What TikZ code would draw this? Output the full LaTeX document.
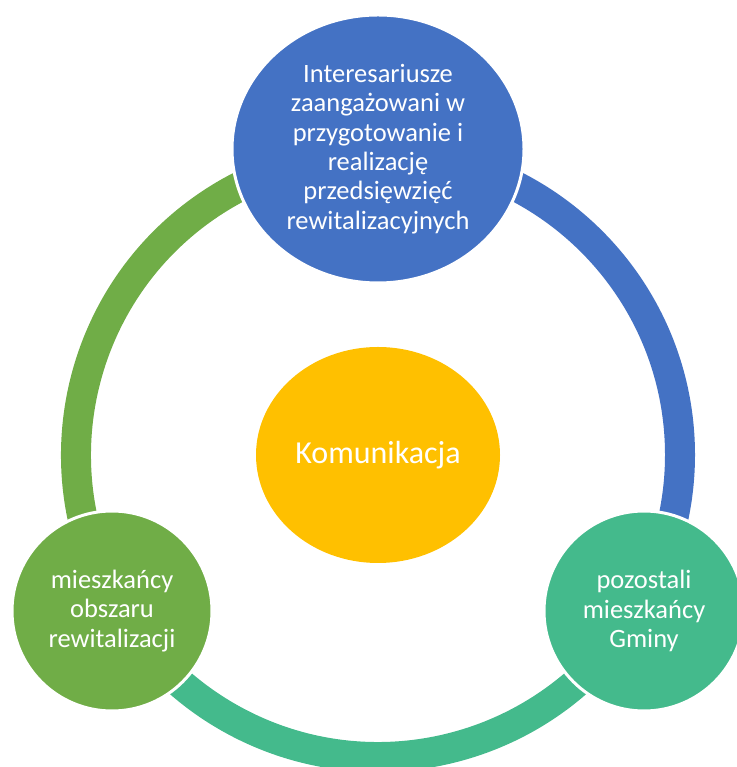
\documentclass[tikz,border=0pt]{standalone}
\usepackage{fontspec}
\setmainfont{Carlito}
\usepackage{tikz}
\usepackage{xcolor}
\usetikzlibrary{shapes.geometric}
\definecolor{ringblue}{HTML}{4472C4}
\definecolor{ringgreen}{HTML}{70AD47}
\definecolor{ringteal}{HTML}{44BA8C}
\definecolor{commyellow}{HTML}{FFC000}
\begin{document}
\begin{tikzpicture}[x=1pt,y=1pt,
		ring/.style={line width=30pt},
		party/.style={circle,draw=white,line width=3pt,inner sep=0pt,minimum size=200pt,text=white,align=center,font=\fontsize{26.5}{29.4}\selectfont},
		hub/.style={ellipse,inner sep=0pt,text=white,align=center}]
		\useasboundingbox (0,0) rectangle (736,767);
		\node[hub,fill=commyellow,minimum width=244pt,minimum height=216pt,font=\fontsize{32}{38}\selectfont] (comm) at (378,312) {Komunikacja};
		\draw[ring,ringgreen] ([shift={(210.4:302)}]comm.center) arc (210.4:90:302);
		\draw[ring,ringblue] ([shift={(90:302)}]comm.center) arc (90:-30.4:302);
		\draw[ring,ringteal] ([shift={(-30.4:302)}]comm.center) arc (-30.4:-149.6:302);
		\node[party,ellipse,fill=ringblue,minimum width=292pt,minimum height=268pt] (stake) at (378,618) {Interesariusze\\zaangażowani w\\przygotowanie i\\realizację\\przedsięwzięć\\rewitalizacyjnych};
		\node[party,fill=ringgreen] (resid) at (112,156) {mieszkańcy\\obszaru\\rewitalizacji};
		\node[party,fill=ringteal] (others) at (644,156) {pozostali\\mieszkańcy\\Gminy};
	\end{tikzpicture}
\end{document}
